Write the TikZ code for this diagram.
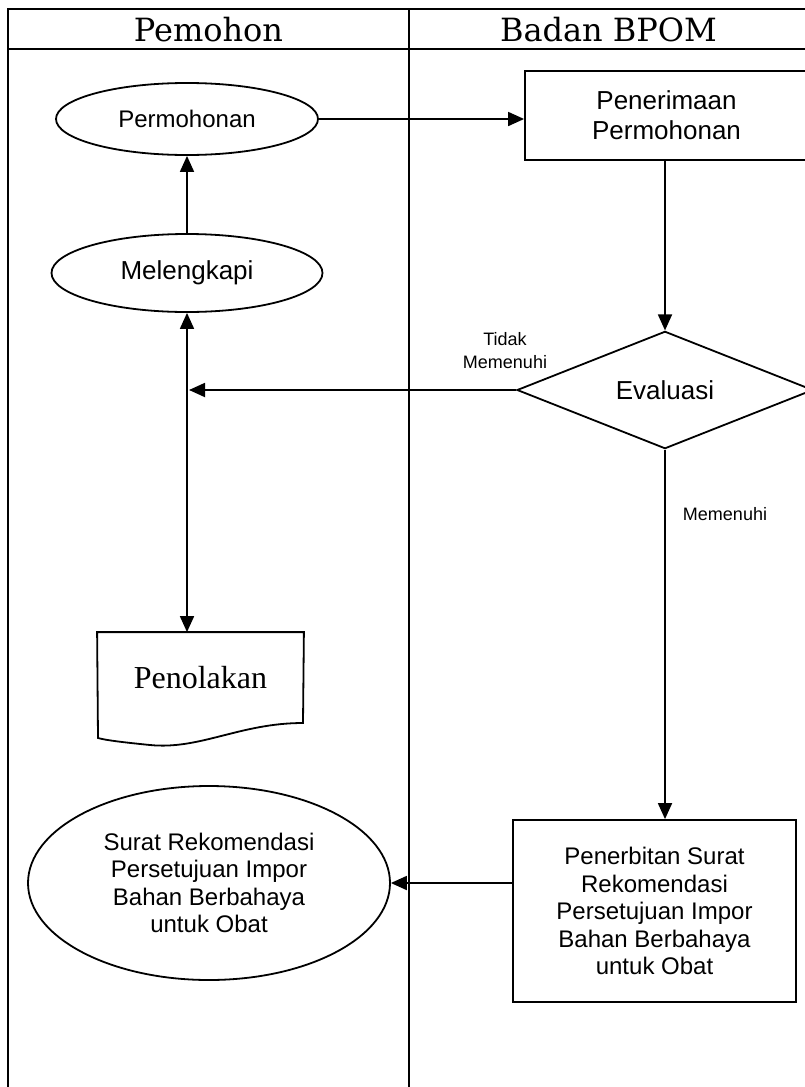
\documentclass[tikz,border=0pt]{standalone}
\usepackage{fontspec}
\setmainfont{Liberation Sans}
\newfontfamily\headfont{DejaVu Serif}
\newfontfamily\docfont{Liberation Serif}
\usetikzlibrary{shapes.geometric,arrows.meta}

\begin{document}
\begin{tikzpicture}[x=1pt,y=-1pt,line width=1.8pt,
  conn/.style={-{Triangle[length=16pt,width=14pt]}},
  both/.style={{Triangle[length=16pt,width=14pt]}-{Triangle[length=16pt,width=14pt]}},
  head/.style={font=\headfont\fontsize{32}{36}\selectfont,inner sep=0pt},
  oval/.style={draw,ellipse,inner sep=0pt,align=center},
  boxnode/.style={draw,rectangle,inner sep=0pt,align=center},
  decision/.style={draw,diamond,inner sep=0pt},
  lbl/.style={font=\fontsize{18}{23}\selectfont,inner sep=0pt,align=center},
  bigtxt/.style={font=\fontsize{26}{30}\selectfont},
  midtxt/.style={font=\fontsize{24}{27.5}\selectfont}]
\useasboundingbox (0,0) rectangle (805,1087);
\clip (0,0) rectangle (805,1087);

% swimlane frame
\draw (8,9) rectangle (808,1100);
\draw (8,49) -- (808,49);
\draw (409,9) -- (409,1100);
\node[head] (lane1) at (208.5,30) {Pemohon};
\node[head] (lane2) at (608.5,30) {Badan BPOM};

% applicant lane
\node[oval,midtxt,minimum width=262,minimum height=72] (perm) at (187,119) {Permohonan};
\node[oval,bigtxt,minimum width=271,minimum height=78] (leng) at (187,273) {Melengkapi};
\node[inner sep=0pt,minimum width=205,minimum height=90,font=\docfont\fontsize{32}{36}\selectfont] (tolak) at (200.5,678) {Penolakan};
\draw (tolak.north west) -- (tolak.north east) -- (303,723)
  .. controls (240,723) and (200,750) .. (150,745)
  .. controls (120,742) and (105,740) .. (98,738) -- cycle;
\node[oval,midtxt,minimum width=362,minimum height=194] (surat) at (209,883)
  {Surat Rekomendasi\\Persetujuan Impor\\Bahan Berbahaya\\untuk Obat};

% agency lane
\node[boxnode,bigtxt,minimum width=283,minimum height=89] (terima) at (666.5,115.5) {Penerimaan\\Permohonan};
\node[decision,bigtxt,minimum width=296,minimum height=112] (eval) at (665,390) {Evaluasi};
\node[boxnode,midtxt,minimum width=283,minimum height=182] (terbit) at (654.5,911)
  {Penerbitan Surat\\Rekomendasi\\Persetujuan Impor\\Bahan Berbahaya\\untuk Obat};

% flow
\draw[conn] (perm.east) -- (perm.east -| terima.west);
\draw[conn] (terima.south -| eval.north) -- (eval.north);
\draw[conn] (eval.west) -- ([xshift=2pt]leng.south |- eval.west);
\draw[both] (leng.south) -- (leng.south |- tolak.north);
\draw[conn] (leng.north) -- (perm.south);
\draw[conn] (eval.south) -- (eval.south |- terbit.north);
\draw[conn] (terbit.west |- surat.east) -- (surat.east);

% branch labels
\node[lbl,anchor=south] (nok) at (505,370) {Tidak\\Memenuhi};
\node[lbl,anchor=base] (ok) at (725,520) {Memenuhi};
\end{tikzpicture}
\end{document}
